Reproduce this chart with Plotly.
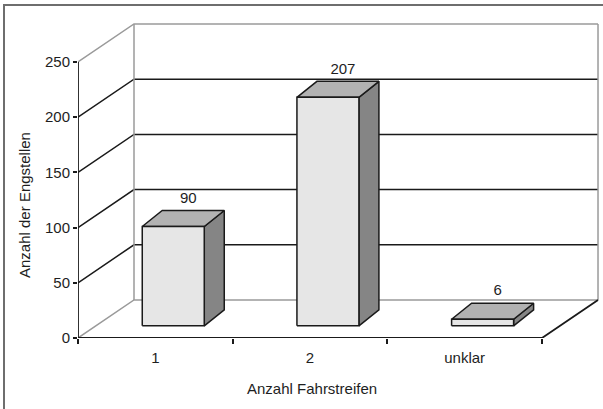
import plotly.graph_objects as go

# --- data ---------------------------------------------------------------
categories = ["1", "2", "unklar"]
counts = [90, 207, 6]
y_ticks = [0, 50, 100, 150, 200, 250]
y_max = 250

x_title = "Anzahl Fahrstreifen"
y_title = "Anzahl der Engstellen"

# --- figure geometry ----------------------------------------------------
W, H = 603, 409
ML, MR, MT, MB = 78, 0, 0, 71          # plot area: x 78..603, y 0..338
PX_PER_CAT = 154.67                    # pixels per category on the front axis
PX_PER_VAL = 1.104                     # pixels per count on the front axis
plot_w, plot_h = W - ML - MR, H - MT - MB
x_range = [0, plot_w / PX_PER_CAT]
y_range = [0, plot_h / PX_PER_VAL]

# oblique depth of the box (floor/walls), in axis units
DX, DY = 56 / PX_PER_CAT, 38 / PX_PER_VAL
# bar depth offset and where the bars sit inside the box depth
BDX, BDY = 20 / PX_PER_CAT, 16 / PX_PER_VAL
D0 = 0.32
BAR_W = 62 / PX_PER_CAT
LABEL_GAP = 4 / PX_PER_VAL
n = len(categories)

FONT = "Liberation Sans, Arial, sans-serif"
DARK = "#1a1a1a"
GREY = "#9a9a9a"
TEXT = "#1e1e1e"

fig = go.Figure()


def poly(xs, ys, color, width=1.5, fill=None):
    kw = dict(x=xs, y=ys, mode="lines", hoverinfo="skip", showlegend=False,
              line=dict(color=color, width=width))
    if fill:
        kw.update(fill="toself", fillcolor=fill)
    fig.add_trace(go.Scatter(**kw))


# gridlines along side wall and back wall
for v in y_ticks:
    col = DARK if 0 < v < y_max else GREY
    poly([0, DX, n + DX], [v, v + DY, v + DY], col, 1.5)

# back wall vertical edges
poly([DX, DX], [DY, y_max + DY], GREY, 1.5)
poly([n + DX, n + DX], [DY, y_max + DY], GREY, 1.5)

# floor front edge and right edge, front value axis
poly([0, n, n + DX], [0, 0, DY], DARK, 1.8)
poly([0, 0], [0, y_max], DARK, 1.8)

# bars: side face, top face, front face
for i, v in enumerate(counts):
    x0 = i + 0.5 - BAR_W / 2 + D0 * DX
    x1 = x0 + BAR_W
    yb = D0 * DY
    yt = v + yb
    poly([x1, x1 + BDX, x1 + BDX, x1, x1],
         [yb, yb + BDY, yt + BDY, yt, yb], DARK, 1.5, "#858585")
    poly([x0, x1, x1 + BDX, x0 + BDX, x0],
         [yt, yt, yt + BDY, yt + BDY, yt], DARK, 1.5, "#b2b2b2")
    poly([x0, x1, x1, x0, x0], [yb, yb, yt, yt, yb], DARK, 1.5, "#e6e6e6")

# value labels above the bars
lab_x = [i + 0.5 + D0 * DX + 0.75 * BDX for i in range(n)]
lab_y = [v + D0 * DY + BDY + LABEL_GAP for v in counts]
fig.add_trace(go.Scatter(
    x=lab_x, y=lab_y, mode="text", text=[str(v) for v in counts],
    textposition="top center", hoverinfo="skip", showlegend=False,
    textfont=dict(family=FONT, size=15, color=TEXT),
))


def paper_x(px):
    return (px - ML) / plot_w


def paper_y(py):
    return (H - MB - py) / plot_h


fig.update_layout(
    width=W, height=H,
    margin=dict(l=ML, r=MR, t=MT, b=MB, pad=0),
    paper_bgcolor="white", plot_bgcolor="white",
    font=dict(family=FONT, size=15, color=TEXT),
    xaxis=dict(
        range=x_range, showgrid=False, zeroline=False, showline=False,
        tickmode="array", tickvals=[i + 0.5 for i in range(n)],
        ticktext=categories, ticks="", ticklabelstandoff=9,
        minor=dict(tickmode="array", tickvals=list(range(n + 1)),
                   ticks="outside", ticklen=5, tickwidth=1.5,
                   tickcolor=DARK, showgrid=False),
    ),
    yaxis=dict(
        range=y_range, showgrid=False, zeroline=False, showline=False,
        tickmode="array", tickvals=y_ticks, ticks="outside", ticklen=4,
        tickwidth=1.5, tickcolor=DARK,
    ),
    annotations=[
        dict(text=x_title, xref="paper", yref="paper",
             x=paper_x(312), y=paper_y(388), showarrow=False,
             xanchor="center", yanchor="middle",
             font=dict(family=FONT, size=15, color=TEXT)),
        dict(text=y_title, xref="paper", yref="paper",
             x=paper_x(24), y=paper_y(205), showarrow=False, textangle=-90,
             xanchor="center", yanchor="middle",
             font=dict(family=FONT, size=15, color=TEXT)),
    ],
    shapes=[
        dict(type="rect", xref="paper", yref="paper",
             x0=paper_x(4), x1=paper_x(612), y0=paper_y(418), y1=paper_y(5),
             line=dict(color="#6e6e6e", width=2), layer="below"),
    ],
)

fig.write_html("out.html")
